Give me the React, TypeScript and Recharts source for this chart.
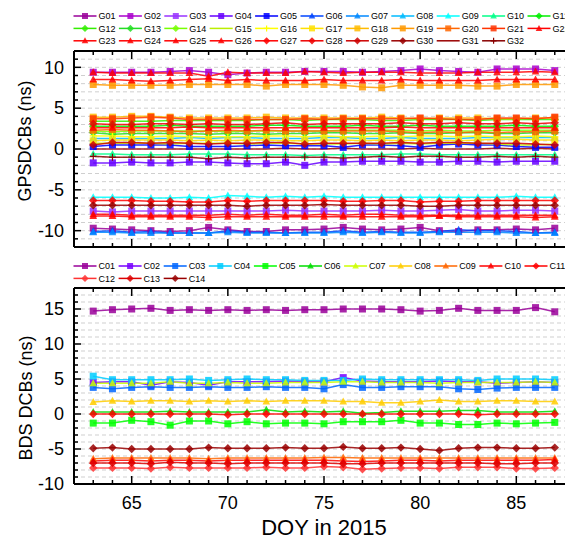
import React from "react";
import { LineChart, Line, XAxis, YAxis, CartesianGrid } from "recharts";

// ---- data (ns), DOY 63..87 ----
const DAYS = [63, 64, 65, 66, 67, 68, 69, 70, 71, 72, 73, 74, 75, 76, 77, 78, 79, 80, 81, 82, 83, 84, 85, 86, 87];
const X_TICKS = [62, 63, 64, 65, 66, 67, 68, 69, 70, 71, 72, 73, 74, 75, 76, 77, 78, 79, 80, 81, 82, 83, 84, 85, 86, 87, 88];
const GPS_Y_TICKS = [-12, -11, -10, -9, -8, -7, -6, -5, -4, -3, -2, -1, 0, 1, 2, 3, 4, 5, 6, 7, 8, 9, 10, 11, 12];
const BDS_Y_TICKS = [-10, -9, -8, -7, -6, -5, -4, -3, -2, -1, 0, 1, 2, 3, 4, 5, 6, 7, 8, 9, 10, 11, 12, 13, 14, 15, 16, 17, 18];

const G01 = [-9.7, -9.8, -9.9, -10.0, -10.1, -10.0, -9.6, -9.9, -10.1, -10.1, -9.9, -9.9, -9.8, -9.6, -9.8, -9.9, -9.8, -9.6, -10.0, -10.1, -9.9, -9.9, -9.8, -9.9, -9.7];
const G02 = [9.4, 9.4, 9.4, 9.4, 9.5, 9.6, 9.4, 9.1, 9.3, 9.4, 9.4, 9.5, 9.5, 9.5, 9.4, 9.5, 9.6, 9.8, 9.6, 9.5, 9.4, 9.8, 9.8, 9.8, 9.6];
const G03 = [-7.6, -7.7, -7.6, -7.6, -7.6, -7.6, -7.6, -7.6, -7.6, -7.6, -7.5, -7.6, -7.6, -7.6, -7.6, -7.5, -7.6, -7.6, -7.5, -7.4, -7.6, -7.6, -7.5, -7.5, -7.6];
const G04 = [-1.7, -1.7, -1.6, -1.7, -1.7, -1.6, -1.6, -1.7, -1.8, -1.8, -1.6, -2.0, -1.6, -1.6, -1.5, -1.5, -1.5, -1.6, -1.6, -1.5, -1.5, -1.6, -1.5, -1.5, -1.5];
const G05 = [0.3, 0.5, 0.5, 0.5, 0.5, 0.3, 0.3, 0.3, 0.4, 0.5, 0.4, 0.4, 0.4, 0.2, 0.5, 0.5, 0.4, 0.2, 0.5, 0.6, 0.5, 0.5, 0.3, 0.2, 0.2];
const G06 = [-10.1, -10.0, -10.2, -10.1, -10.3, -10.3, -10.3, -10.0, -10.2, -10.2, -10.3, -10.2, -10.2, -10.0, -10.2, -10.1, -10.2, -10.2, -10.1, -9.9, -10.0, -10.0, -10.1, -10.3, -10.2];
const G07 = [-10.2, -10.2, -10.3, -10.3, -10.3, -10.3, -10.3, -10.2, -10.3, -10.3, -10.3, -10.3, -10.3, -10.2, -10.3, -10.2, -10.3, -10.3, -10.2, -10.2, -10.2, -10.2, -10.3, -10.3, -10.3];
const G08 = [1.3, 1.3, 1.3, 1.3, 1.3, 1.4, 1.3, 1.4, 1.4, 1.3, 1.3, 1.3, 1.4, 1.4, 1.3, 1.3, 1.4, 1.3, 1.3, 1.3, 1.4, 1.4, 1.4, 1.4, 1.4];
const G09 = [-5.9, -5.9, -5.9, -6.0, -6.0, -5.9, -6.0, -5.7, -5.8, -5.9, -5.8, -5.9, -5.8, -5.9, -5.9, -5.9, -5.9, -5.9, -5.9, -5.9, -5.9, -5.9, -5.8, -5.9, -5.9];
const G10 = [-0.6, -0.6, -0.7, -0.7, -0.7, -0.6, -0.6, -0.6, -0.7, -0.7, -0.7, -0.8, -0.7, -0.7, -0.7, -0.7, -0.6, -0.6, -0.7, -0.7, -0.7, -0.7, -0.7, -0.7, -0.7];
const G11 = [2.8, 2.8, 2.8, 2.8, 2.9, 2.8, 2.8, 2.8, 2.8, 2.9, 2.9, 2.8, 2.8, 2.8, 2.9, 2.8, 2.8, 2.9, 2.8, 2.8, 2.8, 2.8, 2.9, 2.8, 2.8];
const G12 = [3.4, 3.4, 3.4, 3.4, 3.5, 3.5, 3.5, 3.5, 3.5, 3.6, 3.6, 3.5, 3.6, 3.6, 3.6, 3.5, 3.5, 3.6, 3.6, 3.6, 3.5, 3.6, 3.6, 3.6, 3.6];
const G13 = [2.0, 1.8, 1.9, 1.9, 1.9, 1.9, 1.8, 1.9, 1.9, 1.8, 1.9, 1.9, 2.0, 2.0, 1.9, 1.9, 2.0, 1.9, 1.9, 2.0, 2.0, 1.9, 1.9, 2.0, 2.0];
const G14 = [2.2, 2.1, 2.2, 2.2, 2.2, 2.2, 2.2, 2.1, 2.2, 2.2, 2.2, 2.2, 2.2, 2.3, 2.3, 2.3, 2.3, 2.2, 2.3, 2.2, 2.2, 2.3, 2.3, 2.3, 2.3];
const G15 = [0.7, 0.7, 0.7, 0.7, 0.6, 0.7, 0.7, 0.7, 0.6, 0.7, 0.7, 0.6, 0.6, 0.6, 0.7, 0.6, 0.7, 0.6, 0.7, 0.7, 0.7, 0.6, 0.5, 0.5, 0.6];
const G16 = [1.6, 1.6, 1.5, 1.5, 1.6, 1.5, 1.5, 1.5, 1.5, 1.6, 1.6, 1.5, 1.6, 1.5, 1.5, 1.6, 1.5, 1.6, 1.6, 1.5, 1.6, 1.5, 1.5, 1.6, 1.5];
const G17 = [1.0, 1.1, 1.1, 1.1, 1.1, 1.0, 1.1, 1.0, 1.1, 1.1, 1.0, 1.0, 1.1, 1.1, 1.0, 1.1, 1.0, 1.1, 1.1, 1.0, 1.1, 1.2, 1.2, 1.1, 1.1];
const G18 = [3.9, 3.9, 4.0, 4.0, 3.9, 3.8, 3.8, 3.8, 3.8, 3.9, 3.8, 3.8, 3.8, 3.8, 3.8, 3.9, 3.8, 3.7, 3.8, 3.8, 3.8, 3.7, 3.7, 3.8, 3.8];
const G19 = [7.9, 7.8, 7.8, 7.8, 7.8, 7.9, 7.9, 7.9, 7.9, 7.7, 7.9, 7.9, 7.9, 7.8, 7.6, 7.5, 7.8, 7.8, 7.8, 7.8, 7.7, 7.7, 7.9, 7.9, 7.9];
const G20 = [2.3, 2.4, 2.3, 2.3, 2.2, 2.1, 2.2, 2.3, 2.2, 2.3, 2.2, 2.2, 2.2, 2.2, 2.2, 2.2, 2.1, 2.0, 2.1, 2.0, 2.1, 2.0, 2.1, 2.1, 2.2];
const G21 = [3.7, 3.7, 3.8, 3.9, 3.8, 3.6, 3.6, 3.6, 3.6, 3.6, 3.6, 3.7, 3.6, 3.7, 3.7, 3.7, 3.7, 3.8, 3.7, 3.6, 3.6, 3.8, 3.8, 3.7, 3.9];
const G22 = [9.4, 9.3, 9.3, 9.3, 9.3, 9.3, 8.9, 9.4, 9.3, 9.3, 9.3, 9.5, 9.4, 9.3, 9.4, 9.4, 9.4, 9.3, 9.3, 9.3, 9.4, 9.4, 9.4, 9.5, 9.4];
const G23 = [8.5, 8.5, 8.4, 8.3, 8.4, 8.5, 8.6, 8.4, 8.5, 8.4, 8.4, 8.4, 8.5, 8.4, 8.4, 8.4, 8.5, 8.4, 8.4, 8.4, 8.4, 8.5, 8.5, 8.5, 8.5];
const G24 = [-8.0, -8.0, -8.1, -8.1, -8.1, -8.1, -8.1, -8.0, -8.1, -8.0, -8.1, -8.1, -8.0, -8.1, -8.0, -8.0, -8.1, -8.1, -8.1, -8.1, -8.1, -8.1, -8.1, -8.1, -8.1];
const G25 = [-8.2, -8.2, -8.3, -8.3, -8.3, -8.3, -8.4, -8.3, -8.3, -8.3, -8.3, -8.3, -8.3, -8.3, -8.3, -8.3, -8.3, -8.3, -8.2, -8.3, -8.3, -8.3, -8.3, -8.4, -8.3];
const G26 = [2.6, 2.6, 2.6, 2.6, 2.6, 2.7, 2.6, 2.6, 2.6, 2.6, 2.6, 2.6, 2.6, 2.6, 2.6, 2.6, 2.7, 2.6, 2.6, 2.6, 2.6, 2.6, 2.6, 2.6, 2.6];
const G27 = [-6.3, -6.3, -6.3, -6.4, -6.4, -6.5, -6.5, -6.3, -6.4, -6.3, -6.3, -6.3, -6.3, -6.4, -6.4, -6.3, -6.3, -6.5, -6.4, -6.4, -6.3, -6.3, -6.3, -6.3, -6.3];
const G28 = [3.1, 3.0, 3.0, 3.1, 3.1, 3.0, 3.1, 3.0, 3.0, 3.1, 3.2, 3.0, 3.1, 3.1, 3.1, 3.1, 3.2, 3.1, 3.1, 3.2, 3.1, 3.1, 3.2, 3.1, 3.2];
const G29 = [0.5, 0.8, 0.8, 0.7, 0.8, 0.7, 0.6, 0.7, 0.7, 0.8, 0.8, 0.6, 0.7, 0.7, 0.7, 0.7, 0.8, 0.7, 0.8, 0.8, 0.7, 0.7, 0.7, 0.6, 0.5];
const G30 = [-6.9, -6.9, -6.9, -6.9, -6.9, -6.9, -6.9, -6.9, -7.0, -6.9, -6.9, -6.9, -6.8, -6.9, -6.9, -6.9, -6.9, -7.0, -7.0, -6.9, -6.9, -6.9, -6.9, -6.9, -6.9];
const G31 = [0.0, 0.0, 0.0, 0.0, 0.0, 0.0, 0.0, 0.0, 0.0, 0.0, 0.1, 0.0, 0.0, 0.1, 0.0, 0.0, 0.0, 0.1, 0.0, 0.0, 0.0, 0.1, 0.0, 0.1, 0.0];
const G32 = [-0.9, -1.0, -1.0, -1.0, -1.0, -1.0, -1.2, -1.0, -1.1, -1.0, -1.0, -1.0, -1.0, -1.1, -1.0, -0.9, -1.0, -0.9, -0.9, -1.0, -1.0, -0.9, -1.0, -0.9, -1.0];

const C01 = [14.7, 14.9, 15.0, 15.1, 14.8, 14.9, 14.8, 14.9, 14.8, 14.9, 14.8, 14.9, 14.9, 15.0, 15.0, 15.0, 14.9, 14.7, 14.8, 15.1, 14.8, 14.8, 14.8, 15.2, 14.6];
const C02 = [4.5, 4.6, 4.6, 4.1, 4.6, 4.5, 4.1, 4.6, 4.6, 4.6, 4.7, 4.6, 4.6, 5.2, 4.7, 4.6, 4.6, 4.6, 4.7, 4.6, 4.6, 4.4, 4.5, 4.6, 4.5];
const C03 = [3.8, 3.6, 3.8, 3.9, 3.8, 3.8, 3.9, 3.8, 3.8, 3.9, 3.8, 3.8, 3.6, 4.2, 3.8, 3.8, 3.9, 3.9, 3.9, 3.6, 3.5, 3.7, 3.8, 3.8, 3.8];
const C04 = [5.4, 4.9, 4.9, 4.9, 4.9, 5.0, 4.8, 4.9, 5.0, 4.9, 4.9, 4.8, 4.8, 4.8, 5.0, 4.9, 4.9, 4.9, 4.9, 4.9, 4.8, 5.0, 5.0, 5.0, 4.9];
const C05 = [-1.3, -1.3, -0.9, -1.1, -1.6, -1.0, -1.0, -1.4, -1.1, -1.4, -1.3, -1.3, -1.4, -1.1, -1.1, -1.1, -0.9, -1.3, -1.3, -1.5, -1.5, -1.3, -1.4, -1.3, -1.2];
const C06 = [0.3, 0.3, 0.3, 0.3, 0.4, 0.3, 0.3, 0.3, 0.3, 0.6, 0.3, 0.4, 0.3, 0.4, 0.1, 0.2, 0.4, 0.4, 0.4, 0.5, 0.5, 0.3, 0.3, 0.3, 0.4];
const C07 = [4.4, 4.4, 4.4, 4.4, 4.6, 4.4, 4.4, 4.5, 4.4, 4.4, 4.5, 4.5, 4.5, 4.6, 4.6, 4.5, 4.5, 4.5, 4.4, 4.5, 4.5, 4.5, 4.5, 4.6, 4.5];
const C08 = [1.7, 1.9, 1.8, 1.9, 1.9, 1.8, 1.9, 1.8, 1.9, 1.8, 1.9, 1.9, 1.9, 1.8, 1.8, 1.6, 1.6, 1.8, 2.0, 1.8, 1.8, 1.9, 1.9, 1.8, 1.8];
const C09 = [-6.4, -6.3, -6.3, -6.3, -6.3, -6.3, -6.4, -6.3, -6.3, -6.3, -6.3, -6.3, -6.2, -6.2, -6.3, -6.3, -6.3, -6.3, -6.3, -6.3, -6.3, -6.3, -6.3, -6.3, -6.3];
const C10 = [-6.7, -6.6, -6.6, -6.7, -6.6, -6.6, -6.7, -6.6, -6.6, -6.6, -6.6, -6.6, -6.6, -6.7, -6.8, -6.7, -6.6, -6.6, -6.7, -6.6, -6.6, -6.6, -6.6, -6.6, -6.5];
const C11 = [0.0, 0.0, 0.0, 0.0, 0.0, 0.0, 0.0, -0.1, 0.0, 0.0, 0.0, 0.0, 0.0, 0.0, 0.0, 0.0, 0.0, 0.0, 0.0, 0.0, -0.1, 0.0, 0.0, 0.0, 0.0];
const C12 = [-7.7, -7.7, -7.7, -7.8, -7.6, -7.7, -7.7, -7.7, -7.7, -7.6, -7.7, -7.7, -7.5, -7.6, -7.9, -7.8, -7.7, -7.7, -7.8, -7.6, -7.6, -7.6, -7.8, -7.8, -7.7];
const C13 = [-7.0, -7.0, -7.0, -7.1, -6.9, -7.0, -7.0, -7.1, -7.0, -7.0, -7.0, -7.0, -7.0, -7.1, -7.1, -7.0, -7.0, -7.0, -7.0, -7.0, -7.0, -7.1, -7.1, -7.0, -7.0];
const C14 = [-4.9, -4.8, -5.0, -5.0, -5.0, -5.0, -4.8, -4.9, -4.9, -4.9, -4.8, -4.9, -4.9, -4.7, -4.9, -4.9, -4.8, -5.0, -5.2, -4.9, -4.8, -4.8, -4.9, -4.9, -4.8];

type Shape = "square" | "triangle" | "diamond" | "plus" | "none";
type Series = { name: string; values: number[]; color: string; shape: Shape };

const GPS: Series[] = [
  { name: "G01", values: G01, color: "#990099", shape: "square" },
  { name: "G02", values: G02, color: "#aa00cc", shape: "square" },
  { name: "G03", values: G03, color: "#9933ff", shape: "square" },
  { name: "G04", values: G04, color: "#6600ff", shape: "square" },
  { name: "G05", values: G05, color: "#0000ff", shape: "square" },
  { name: "G06", values: G06, color: "#0044ff", shape: "triangle" },
  { name: "G07", values: G07, color: "#0088ff", shape: "triangle" },
  { name: "G08", values: G08, color: "#00bbff", shape: "triangle" },
  { name: "G09", values: G09, color: "#00ffff", shape: "triangle" },
  { name: "G10", values: G10, color: "#00ff88", shape: "triangle" },
  { name: "G11", values: G11, color: "#00ee00", shape: "diamond" },
  { name: "G12", values: G12, color: "#33ee00", shape: "diamond" },
  { name: "G13", values: G13, color: "#22dd22", shape: "diamond" },
  { name: "G14", values: G14, color: "#77ff00", shape: "diamond" },
  { name: "G15", values: G15, color: "#bbee00", shape: "none" },
  { name: "G16", values: G16, color: "#ffff00", shape: "plus" },
  { name: "G17", values: G17, color: "#ffe000", shape: "square" },
  { name: "G18", values: G18, color: "#ffbb00", shape: "square" },
  { name: "G19", values: G19, color: "#ff9900", shape: "square" },
  { name: "G20", values: G20, color: "#ff6600", shape: "square" },
  { name: "G21", values: G21, color: "#ff3300", shape: "square" },
  { name: "G22", values: G22, color: "#ff0000", shape: "triangle" },
  { name: "G23", values: G23, color: "#ff0000", shape: "triangle" },
  { name: "G24", values: G24, color: "#ff0000", shape: "triangle" },
  { name: "G25", values: G25, color: "#ff0000", shape: "triangle" },
  { name: "G26", values: G26, color: "#ff0000", shape: "triangle" },
  { name: "G27", values: G27, color: "#ff0000", shape: "diamond" },
  { name: "G28", values: G28, color: "#ee0000", shape: "diamond" },
  { name: "G29", values: G29, color: "#cc0000", shape: "diamond" },
  { name: "G30", values: G30, color: "#990000", shape: "diamond" },
  { name: "G31", values: G31, color: "#990000", shape: "none" },
  { name: "G32", values: G32, color: "#880000", shape: "plus" },
];

const BDS: Series[] = [
  { name: "C01", values: C01, color: "#990099", shape: "square" },
  { name: "C02", values: C02, color: "#7700ff", shape: "square" },
  { name: "C03", values: C03, color: "#0066ff", shape: "square" },
  { name: "C04", values: C04, color: "#00ccff", shape: "square" },
  { name: "C05", values: C05, color: "#00ff00", shape: "square" },
  { name: "C06", values: C06, color: "#00dd00", shape: "triangle" },
  { name: "C07", values: C07, color: "#ccff00", shape: "triangle" },
  { name: "C08", values: C08, color: "#ffcc00", shape: "triangle" },
  { name: "C09", values: C09, color: "#ff6600", shape: "triangle" },
  { name: "C10", values: C10, color: "#ff0000", shape: "triangle" },
  { name: "C11", values: C11, color: "#ff0000", shape: "diamond" },
  { name: "C12", values: C12, color: "#ff3333", shape: "diamond" },
  { name: "C13", values: C13, color: "#dd0000", shape: "diamond" },
  { name: "C14", values: C14, color: "#990000", shape: "diamond" },
];

const toRows = (series: Series[]) =>
  DAYS.map((day, i) => {
    const row: Record<string, number> = { day };
    series.forEach((s) => (row[s.name] = s.values[i]));
    return row;
  });

const FONT = '"Liberation Sans", Arial, sans-serif';

function Marker({ cx, cy, shape, color, size = 7 }: { cx: number; cy: number; shape: Shape; color: string; size?: number }) {
  const h = size / 2;
  if (shape === "square") return <rect x={cx - h} y={cy - h} width={size} height={size} fill={color} fillOpacity={0.85} />;
  if (shape === "triangle")
    return <polygon points={`${cx},${cy - h * 1.15} ${cx - h * 1.1},${cy + h * 0.85} ${cx + h * 1.1},${cy + h * 0.85}`} fill={color} fillOpacity={0.85} />;
  if (shape === "diamond")
    return <polygon points={`${cx},${cy - h * 1.2} ${cx + h * 1.2},${cy} ${cx},${cy + h * 1.2} ${cx - h * 1.2},${cy}`} fill={color} fillOpacity={0.85} />;
  if (shape === "plus")
    return <path d={`M${cx - h},${cy}H${cx + h}M${cx},${cy - h}V${cy + h}`} stroke={color} strokeWidth={1.2} />;
  return null;
}

function XTick({ x, y, payload, side, labels }: any) {
  const major = payload.value % 5 === 0;
  const len = major ? 8 : 4;
  const dir = side === "top" ? 1 : -1;
  return (
    <g>
      <line x1={x} y1={y} x2={x} y2={y + dir * len} stroke="#000" strokeWidth={1.5} />
      {labels && major && (
        <text x={x} y={y + 25} textAnchor="middle" fontSize={18} fontFamily={FONT} fill="#000">
          {payload.value}
        </text>
      )}
    </g>
  );
}

function YTick({ x, y, payload }: any) {
  const major = payload.value % 5 === 0;
  const len = major ? 7 : 4;
  return (
    <g>
      <line x1={x} y1={y} x2={x + len} y2={y} stroke="#000" strokeWidth={1.5} />
      {major && (
        <text x={x - 10} y={y} dy="0.35em" textAnchor="end" fontSize={18} fontFamily={FONT} fill="#000">
          {payload.value}
        </text>
      )}
    </g>
  );
}

function Panel({ series, yTicks, top, height, marginTop, bottomAxis, labels }: {
  series: Series[]; yTicks: number[]; top: number; height: number; marginTop: number; bottomAxis: number; labels: boolean;
}) {
  const rows = toRows(series);
  return (
    <div style={{ position: "absolute", left: 0, top }}>
      <LineChart width={600} height={height} data={rows} margin={{ top: marginTop, right: 26, bottom: 0, left: 0 }}>
        <CartesianGrid vertical={false} stroke="#cfcfcf" strokeDasharray="4 3" yAxisId="y" xAxisId="bottom" />
        <XAxis
          xAxisId="top"
          orientation="top"
          type="number"
          dataKey="day"
          domain={[62, 88]}
          ticks={X_TICKS}
          interval={0}
          height={10}
          tickSize={0}
          tickMargin={0}
          axisLine={{ stroke: "#000", strokeWidth: 2 }}
          tick={(p: any) => <XTick {...p} side="top" labels={false} />}
        />
        <XAxis
          xAxisId="bottom"
          type="number"
          dataKey="day"
          domain={[62, 88]}
          ticks={X_TICKS}
          interval={0}
          height={bottomAxis}
          tickSize={0}
          tickMargin={0}
          axisLine={{ stroke: "#000", strokeWidth: 2 }}
          tick={(p: any) => <XTick {...p} side="bottom" labels={labels} />}
        />
        <YAxis
          yAxisId="y"
          type="number"
          domain={[yTicks[0], yTicks[yTicks.length - 1]]}
          ticks={yTicks}
          interval={0}
          width={74}
          tickSize={0}
          tickMargin={0}
          axisLine={{ stroke: "#000", strokeWidth: 2 }}
          tick={(p: any) => <YTick {...p} />}
        />
        {series.map((s) => (
          <Line
            key={s.name}
            xAxisId="bottom"
            yAxisId="y"
            type="linear"
            dataKey={s.name}
            stroke={s.color}
            strokeOpacity={0.85}
            strokeWidth={1.5}
            activeDot={false}
            dot={
              s.shape === "none"
                ? false
                : (p: any) => (
                    <g key={`${s.name}-${p.index}`}>
                      <Marker cx={p.cx} cy={p.cy} shape={s.shape} color={s.color} />
                    </g>
                  )
            }
            isAnimationActive={false}
          />
        ))}
      </LineChart>
    </div>
  );
}

function LegendBlock({ series, x0, y0, perRow, step }: { series: Series[]; x0: number; y0: number; perRow: number; step: number }) {
  return (
    <g>
      {series.map((s, i) => {
        const x = x0 + (i % perRow) * step;
        const y = y0 + Math.floor(i / perRow) * 12.4;
        return (
          <g key={s.name}>
            <line x1={x} y1={y} x2={x + 23} y2={y} stroke={s.color} strokeWidth={1.5} />
            <Marker cx={x + 11.5} cy={y} shape={s.shape} color={s.color} size={6} />
            <text x={x + 25} y={y} dy="0.35em" fontSize={9} fontFamily={FONT} fill="#000">
              {s.name}
            </text>
          </g>
        );
      })}
    </g>
  );
}

export default function App() {
  return (
    <div style={{ position: "absolute", left: 0, top: 0, width: 565, height: 541, overflow: "hidden", background: "#fff", fontFamily: FONT }}>
      <Panel series={GPS} yTicks={GPS_Y_TICKS} top={0} height={260} marginTop={41} bottomAxis={13} labels={false} />
      <Panel series={BDS} yTicks={BDS_Y_TICKS} top={260} height={281} marginTop={18} bottomAxis={57} labels={true} />
      <svg width={565} height={541} style={{ position: "absolute", left: 0, top: 0, pointerEvents: "none" }}>
        <LegendBlock series={GPS} x0={73.5} y0={16} perRow={11} step={45.4} />
        <LegendBlock series={BDS} x0={73.5} y0={266} perRow={11} step={45.1} />
        <text x={25} y={141} transform="rotate(-90 25 141)" textAnchor="middle" dy="0.35em" fontSize={18} fontFamily={FONT}>
          GPSDCBs (ns)
        </text>
        <text x={26} y={398} transform="rotate(-90 26 398)" textAnchor="middle" dy="0.35em" fontSize={18} fontFamily={FONT}>
          BDS DCBs (ns)
        </text>
        <text x={324} y={535} textAnchor="middle" fontSize={22} fontFamily={FONT}>
          DOY in 2015
        </text>
      </svg>
    </div>
  );
}
